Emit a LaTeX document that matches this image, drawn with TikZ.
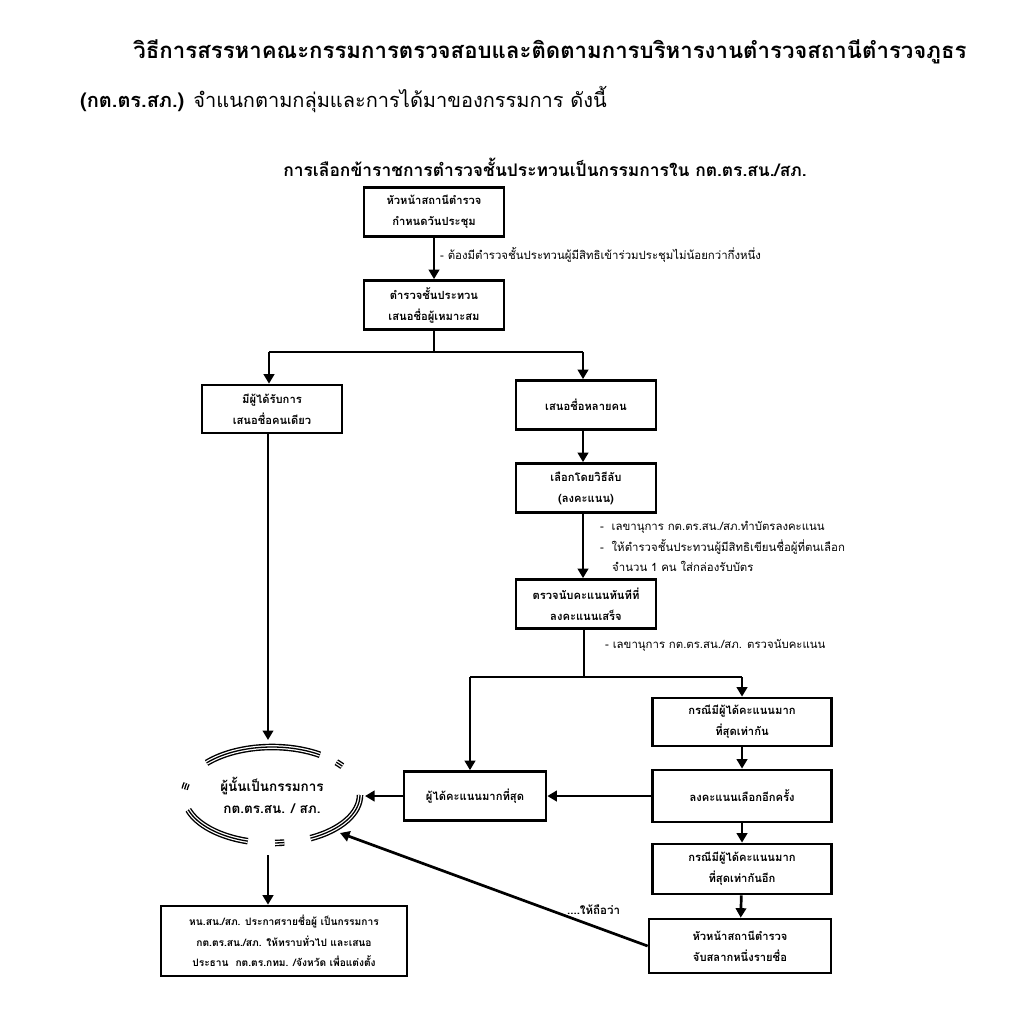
\documentclass[tikz,border=0pt]{standalone}
\usepackage{fontspec}
\newfontfamily\thai[Script=Thai]{Loma}
\usetikzlibrary{arrows.meta,shapes.geometric}
\begin{document}
\begin{tikzpicture}[x=1pt,y=-1pt,
  box/.style={draw,line width=2.7pt,align=center,inner sep=2pt,
    font=\thai\bfseries\fontsize{11.2}{21}\selectfont},
  ln/.style={line width=2.7pt},
  arr/.style={line width=2.7pt,-{Triangle[length=9.5pt,width=10.5pt]}},
  lbl/.style={anchor=west,inner sep=0pt,font=\thai\fontsize{11.4}{13}\selectfont},
  tri/.style={line width=6.6pt},
]
\useasboundingbox[fill=white] (0,0) rectangle (1024,1017);
% header
\node[inner sep=0pt,font=\thai\bfseries\fontsize{22.2}{25}\selectfont] (h1) at (550,52) {วิธีการสรรหาคณะกรรมการตรวจสอบและติดตามการบริหารงานตำรวจสถานีตำรวจภูธร};
\node[anchor=west,inner sep=0pt,font=\thai\fontsize{20}{24}\selectfont] (h2) at (80,100) {\textbf{(กต.ตร.สภ.)} จำแนกตามกลุ่มและการได้มาของกรรมการ ดังนี้};
\node[inner sep=0pt,font=\thai\bfseries\fontsize{17.4}{20}\selectfont] (title) at (545,167) {การเลือกข้าราชการตำรวจชั้นประทวนเป็นกรรมการใน กต.ตร.สน./สภ.};
% boxes
\node[box,minimum width=140,minimum height=49] (A) at (434,212) {หัวหน้าสถานีตำรวจ\\กำหนดวันประชุม};
\node[box,minimum width=140,minimum height=49] (B) at (434,305) {ตำรวจชั้นประทวน\\เสนอชื่อผู้เหมาะสม};
\node[box,minimum width=140,minimum height=48] (C) at (272,409) {มีผู้ได้รับการ\\เสนอชื่อคนเดียว};
\node[box,minimum width=140,minimum height=49] (D) at (586,405) {เสนอชื่อหลายคน};
\node[box,minimum width=140,minimum height=49] (E) at (586,488) {เลือกโดยวิธีลับ\\(ลงคะแนน)};
\node[box,minimum width=140,minimum height=49] (F) at (586,604) {ตรวจนับคะแนนทันทีที่\\ลงคะแนนเสร็จ};
\node[box,minimum width=179,minimum height=48] (G) at (742,722) {กรณีมีผู้ได้คะแนนมาก\\ที่สุดเท่ากัน};
\node[box,minimum width=142,minimum height=49] (H) at (475,796) {ผู้ได้คะแนนมากที่สุด};
\node[box,minimum width=179,minimum height=52] (I) at (742,796) {ลงคะแนนเลือกอีกครั้ง};
\node[box,minimum width=179,minimum height=50] (J) at (742,869) {กรณีมีผู้ได้คะแนนมาก\\ที่สุดเท่ากันอีก};
\node[box,minimum width=182,minimum height=54] (K) at (740,946) {หัวหน้าสถานีตำรวจ\\จับสลากหนึ่งรายชื่อ};
\node[box,minimum width=246,minimum height=70,font=\thai\bfseries\fontsize{10.2}{20.5}\selectfont] (L) at (284,941) {หน.สน./สภ. ประกาศรายชื่อผู้ เป็นกรรมการ\\กต.ตร.สน./สภ. ให้ทราบทั่วไป และเสนอ\\ประธาน\ \ กต.ตร.กทม. /จังหวัด เพื่อแต่งตั้ง};
% ellipse (triple dashed)
\node[ellipse,minimum width=176,minimum height=96,inner sep=0pt,align=center,
  font=\thai\bfseries\fontsize{13.5}{22}\selectfont] (Ell) at (272,795) {ผู้นั้นเป็นกรรมการ\\กต.ตร.สน. / สภ.};
\foreach \a/\b in {57/138,37/43,-64/0,-88/-82,198/254,166/173}{
  \draw[tri,black] (Ell.center) ++(\a:88 and -48) arc[start angle=\a,end angle=\b,x radius=88,y radius=-48];
  \draw[line width=3.8pt,white] (Ell.center) ++(\a:88 and -48) arc[start angle=\a,end angle=\b,x radius=88,y radius=-48];
  \draw[line width=1.3pt,black] (Ell.center) ++(\a:88 and -48) arc[start angle=\a,end angle=\b,x radius=88,y radius=-48];
}
% coordinates
\coordinate (s1) at (434,352);
\coordinate (s1l) at (269,352);
\coordinate (s1r) at (583,352);
\coordinate (s2) at (584,677);
\coordinate (s2l) at (470,677);
\coordinate (s2r) at (742,677);
\coordinate (et) at (268,740);
\coordinate (eb) at (268,855);
\coordinate (kt) at (340,833);
\coordinate (ht) at (365,796);
% connectors
\draw[arr] (A) -- (B);
\draw[ln] (B.south) -- (s1);
\draw[ln] (s1l) -- (s1r);
\draw[arr] (s1l) -- (s1l |- C.north);
\draw[arr] (s1r) -- (s1r |- D.north);
\draw[arr] (D.south -| s1r) -- (s1r |- E.north);
\draw[arr] (E.south -| s1r) -- (s1r |- F.north);
\draw[ln] (F.south -| s2) -- (s2);
\draw[ln] (s2l) -- (s2r);
\draw[arr] (s2l) -- (s2l |- H.north);
\draw[arr] (s2r) -- (G.north);
\draw[arr] (G) -- (I);
\draw[arr] (I) -- (J);
\draw[arr] (J) -- (K);
\draw[arr] (I.west) -- (H.east);
\draw[arr] (H.west) -- (ht);
\draw[arr] (C.south -| et) -- (et);
\draw[arr] (eb) -- (eb |- L.north);
\draw[arr] (K.west) -- (kt);
% labels
\node[lbl] (l1) at (440,255) {- ต้องมีตำรวจชั้นประทวนผู้มีสิทธิเข้าร่วมประชุมไม่น้อยกว่ากึ่งหนึ่ง};
\node[lbl] (l2) at (600,527) {- \ เลขานุการ กต.ตร.สน./สภ.ทำบัตรลงคะแนน};
\node[lbl] (l3) at (600,547) {- \ ให้ตำรวจชั้นประทวนผู้มีสิทธิเขียนชื่อผู้ที่ตนเลือก};
\node[lbl] (l4) at (612,566) {จำนวน 1 คน ใส่กล่องรับบัตร};
\node[lbl] (l5) at (605,645) {- เลขานุการ กต.ตร.สน./สภ. ตรวจนับคะแนน};
\node[lbl,font=\thai\bfseries\fontsize{11.5}{13}\selectfont] (l6) at (567,910) {....ให้ถือว่า};
\end{tikzpicture}
\end{document}
